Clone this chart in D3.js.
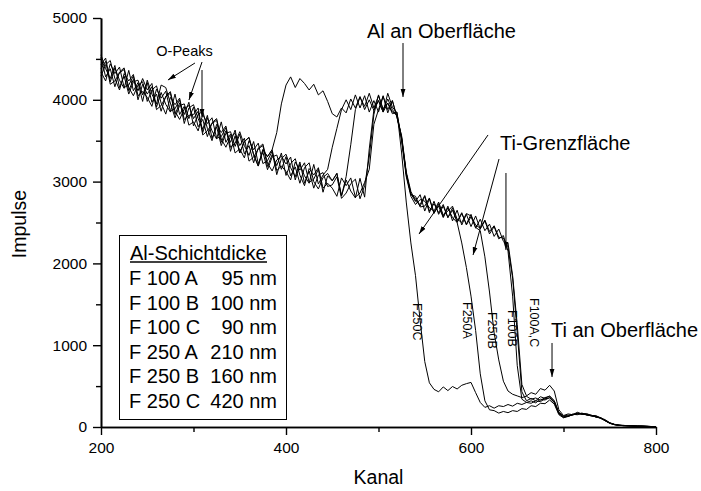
<!DOCTYPE html>
<html>
<head>
<meta charset="utf-8">
<script src="https://cdn.jsdelivr.net/npm/d3@7"></script>
<style>
  html, body { margin: 0; padding: 0; background: #fff; }
  svg { display: block; font-family: "Liberation Sans", Arial, sans-serif; }
</style>
</head>
<body>
<svg id="chart" width="701" height="491"></svg>
<script>
// ---- data (channel 200..800, step 5) ----
const channels = d3.range(200, 801, 5);

const F100A = [
  4520,4280,4380,4160,4340,4390,4150,4050,4180,4220,
  3980,4120,4170,3960,3825,4030,3940,4020,3760,3810,
  3820,3900,3600,3780,3620,3520,3730,3480,3580,3350,
  3400,3290,3500,3390,3470,3220,3255,3370,3085,3280,
  3335,3170,3060,3240,2980,3130,2920,3080,3110,2940,
  2960,3060,2795,2860,2975,3030,2790,2950,3300,3820,
  4060,3870,4010,3880,3800,3530,3080,2850,2790,2700,
  2820,2620,2760,2600,2700,2560,2680,2500,2610,2480,
  2600,2430,2540,2400,2480,2330,2420,2270,2250,1850,
  1250,520,380,420,400,470,450,510,440,210,
  140,160,150,180,160,165,140,140,110,90,
  52,34,22,20,15,16,10,13,8,6,
  5
];
const F100B = [
  4430,4510,4220,4390,4240,4140,4360,4110,4210,3980,
  4240,4070,3950,4180,4150,3960,3780,3930,3950,3770,
  3910,3670,3760,3550,3720,3770,3520,3420,3550,3590,
  3440,3530,3250,3300,3400,3440,3185,3330,3195,3350,
  3075,3220,3280,3080,2950,3160,3080,3170,2920,2980,
  2920,2820,3045,2950,3045,2810,2860,2990,3150,3700,
  3880,4050,3840,3990,3780,3560,3120,2880,2760,2840,
  2640,2790,2610,2730,2570,2700,2520,2650,2470,2600,
  2450,2580,2420,2520,2360,2450,2300,2340,2150,1600,
  750,340,300,320,295,340,330,360,300,170,
  120,130,155,150,170,145,145,120,115,75,
  46,31,19,18,14,13,10,9,9,5,
  4
];
const F100C = [
  4550,4380,4260,4420,4150,4290,4070,4220,4240,4060,
  4210,3970,4070,3860,4045,4100,3860,3760,3890,3930,
  3770,3860,3570,3620,3710,3750,3480,3620,3480,3630,
  3350,3490,3540,3330,3190,3390,3305,3390,3135,3190,
  3125,3020,3240,3140,3230,2990,3030,3150,2870,3070,
  3010,3100,2825,3020,2885,2800,3040,2810,3400,3880,
  3990,3850,4080,3910,3840,3500,3060,2820,2720,2780,
  2760,2680,2640,2750,2590,2640,2700,2540,2500,2610,
  2580,2470,2430,2530,2390,2460,2320,2310,2200,1820,
  1150,430,320,350,320,370,350,380,320,180,
  135,145,150,170,155,155,135,130,115,80,
  50,29,23,17,16,12,12,9,7,6,
  5
];
const F250A = [
  4290,4430,4480,4260,4120,4320,4230,4310,4050,4100,
  4030,3920,4130,4020,4105,3860,3890,4000,3710,3900,
  3940,3770,3640,3810,3530,3670,3440,3590,3610,3430,
  3580,3340,3440,3230,3410,3460,3225,3130,3265,3310,
  3215,3300,3020,3210,3070,2980,3210,2970,3080,3150,
  3420,3650,3880,4000,3880,4060,3900,4050,3850,3990,
  3850,4040,3880,3990,3790,3520,3100,2840,2820,2690,
  2700,2800,2620,2700,2560,2680,2560,2500,2250,1950,
  1600,1180,650,320,210,200,170,190,175,200,
  190,225,215,260,250,290,285,330,280,150,
  112,135,145,165,155,152,135,128,105,80,
  44,29,21,15,15,11,11,8,7,5,
  4
];
const F250B = [
  4340,4230,4440,4320,4400,4150,4180,4290,4000,4190,
  4070,4160,3880,3930,4035,4080,3820,3960,3820,3970,
  3680,3820,3860,3650,3500,3700,3600,3680,3420,3470,
  3610,3440,3320,3490,3220,3360,3145,3300,3325,3150,
  3305,3070,3180,2980,3170,3230,3000,2910,3050,3100,
  3010,3100,2825,3060,3450,3880,4030,3920,4080,3900,
  4050,3890,3960,3850,3820,3540,3100,2850,2760,2720,
  2830,2640,2730,2620,2720,2560,2650,2510,2620,2470,
  2570,2440,2400,2080,1650,1150,820,560,440,400,
  380,360,375,340,355,325,360,375,320,170,
  128,132,158,160,168,150,142,124,112,82,
  49,30,22,16,16,12,11,10,8,6,
  5
];
const F250C = [
  4380,4470,4190,4230,4330,4370,4110,4250,4110,4260,
  4120,4200,3910,4090,3945,3850,4070,3820,3920,3690,
  3730,3620,3820,3710,3780,3530,3550,3660,3370,3560,
  3350,3490,3540,3330,3190,3390,3305,3390,3600,3950,
  4180,4280,4150,4260,4200,4120,4190,4060,4110,3980,
  3830,3790,3900,3840,4010,3900,4040,3880,4000,3870,
  3990,3850,3960,3830,3850,3350,2750,2250,1850,1300,
  800,540,460,430,490,445,495,465,510,530,
  545,420,300,240,260,230,260,250,275,255,
  290,275,300,290,320,310,345,355,300,160,
  118,128,152,158,163,148,142,124,108,78,
  47,30,20,19,14,13,10,9,7,5,
  4
];
const seriesNames = ["F100A","F100B","F100C","F250A","F250B","F250C"];
const seriesValues = [F100A, F100B, F100C, F250A, F250B, F250C];

const xMajorTicks = [200, 400, 600, 800];
const xMinorTicks = [300, 500, 700];
const yMajorTicks = [0, 1000, 2000, 3000, 4000, 5000];
const yMinorTicks = [500, 1500, 2500, 3500, 4500];

const legendTitle = "Al-Schichtdicke";
const legendSamples = ["F 100 A", "F 100 B", "F 100 C", "F 250 A", "F 250 B", "F 250 C"];
const legendThickness = ["95 nm", "100 nm", "90 nm", "210 nm", "160 nm", "420 nm"];

// curve labels: [text, channel, counts]
const curveLabels = [
  ["F250C", 537.8, 1516],
  ["F250A", 591.4, 1528],
  ["F250B", 618.4, 1406],
  ["F100B", 640.0, 1430],
  ["F100A,C", 663.8, 1577]
];
// annotation texts: [text, channel, counts, anchor, size]
const annoTexts = [
  ["O-Peaks", 290.3, 4535, "middle", 14.5],
  ["Al an Oberfläche", 568, 4756, "middle", 20],
  ["Ti-Grenzfläche", 631.4, 3386, "start", 20],
  ["Ti an Oberfläche", 686.5, 1100, "start", 20]
];
// arrows: [ch1, v1, ch2, v2]
const annoArrows = [
  [301.6, 4450, 272.4, 4242],
  [309.2, 4462, 295.1, 3998],
  [309.2, 4364, 309.2, 3790],
  [526.5, 4694, 526.5, 4034],
  [618.4, 3570, 543.8, 2359],
  [630.3, 3276, 602.2, 2103],
  [637.8, 3105, 637.8, 2164],
  [687.6, 1027, 687.6, 611]
];

// ---- drawing ----
const svg = d3.select("#chart");
svg.append("rect").attr("width", 701).attr("height", 491).attr("fill", "#fff");

const x = d3.scaleLinear().domain([200, 800]).range([101, 656]);
const y = d3.scaleLinear().domain([0, 5000]).range([427, 18]);

const defs = svg.append("defs");
defs.append("marker")
  .attr("id", "ah").attr("viewBox", "0 0 10 10")
  .attr("refX", 10).attr("refY", 5)
  .attr("markerWidth", 8).attr("markerHeight", 8)
  .attr("markerUnits", "userSpaceOnUse")
  .attr("orient", "auto")
  .append("path").attr("d", "M0,2 L10,5 L0,8 Z").attr("fill", "#000");

// curves
const line = d3.line()
  .x((d, i) => x(channels[i]))
  .y(d => y(d));
const gCurves = svg.append("g");
seriesValues.forEach((vals, k) => {
  gCurves.append("path")
    .datum(vals.slice(0, channels.length))
    .attr("d", line)
    .attr("fill", "none")
    .attr("stroke", "#000")
    .attr("stroke-width", 1)
    .attr("stroke-linejoin", "miter")
    .attr("class", "series-" + seriesNames[k]);
});

// axes
function styleAxis(g) {
  g.selectAll("path.domain").attr("stroke", "#000").attr("stroke-width", 1.6);
  g.selectAll(".tick line").attr("stroke", "#000").attr("stroke-width", 1.4);
  g.selectAll(".tick text")
    .attr("fill", "#000")
    .style("font-family", '"Liberation Sans", Arial, sans-serif')
    .style("font-size", "15.5px");
}
const gxMinor = svg.append("g").attr("transform", "translate(0,427)")
  .call(d3.axisBottom(x).tickValues(xMinorTicks).tickSize(5).tickSizeOuter(0).tickFormat(""));
styleAxis(gxMinor);
const gx = svg.append("g").attr("transform", "translate(0,427)")
  .call(d3.axisBottom(x).tickValues(xMajorTicks).tickSize(8).tickSizeOuter(0).tickPadding(7).tickFormat(d3.format("d")));
styleAxis(gx);

const gyMinor = svg.append("g").attr("transform", "translate(101,0)")
  .call(d3.axisLeft(y).tickValues(yMinorTicks).tickSize(5).tickSizeOuter(0).tickFormat(""));
styleAxis(gyMinor);
const gy = svg.append("g").attr("transform", "translate(101,0)")
  .call(d3.axisLeft(y).tickValues(yMajorTicks).tickSize(8).tickSizeOuter(0).tickPadding(6).tickFormat(d3.format("d")));
styleAxis(gy);

// axis titles
svg.append("text")
  .attr("transform", "translate(26,224) rotate(-90)")
  .attr("text-anchor", "middle")
  .style("font-size", "19.5px")
  .text("Impulse");
svg.append("text")
  .attr("x", 378.5).attr("y", 484)
  .attr("text-anchor", "middle")
  .style("font-size", "19.5px")
  .text("Kanal");

// annotations
annoArrows.forEach(a => {
  svg.append("line")
    .attr("x1", x(a[0])).attr("y1", y(a[1]))
    .attr("x2", x(a[2])).attr("y2", y(a[3]))
    .attr("stroke", "#000").attr("stroke-width", 1)
    .attr("marker-end", "url(#ah)");
});
annoTexts.forEach(t => {
  svg.append("text")
    .attr("x", x(t[1])).attr("y", y(t[2]))
    .attr("text-anchor", t[3])
    .style("font-size", t[4] + "px")
    .text(t[0]);
});
curveLabels.forEach(c => {
  svg.append("text")
    .attr("transform", `translate(${x(c[1])},${y(c[2])}) rotate(90)`)
    .attr("text-anchor", "start")
    .style("font-size", "12.5px")
    .text(c[0]);
});

// legend
const lg = svg.append("g");
lg.append("rect")
  .attr("x", 119.5).attr("y", 235.5).attr("width", 167).attr("height", 184)
  .attr("fill", "#fff").attr("stroke", "#000").attr("stroke-width", 1);
lg.append("text").attr("x", 130).attr("y", 259.5).style("font-size", "20px").text(legendTitle);
lg.append("line").attr("x1", 130).attr("x2", 267).attr("y1", 262).attr("y2", 262)
  .attr("stroke", "#000").attr("stroke-width", 1.5);
legendSamples.forEach((s, i) => {
  const yy = 285 + i * 24.5;
  lg.append("text").attr("x", 129).attr("y", yy).style("font-size", "20px").text(s);
  lg.append("text").attr("x", 277).attr("y", yy).attr("text-anchor", "end")
    .style("font-size", "20px").text(legendThickness[i]);
});
</script>
</body>
</html>
